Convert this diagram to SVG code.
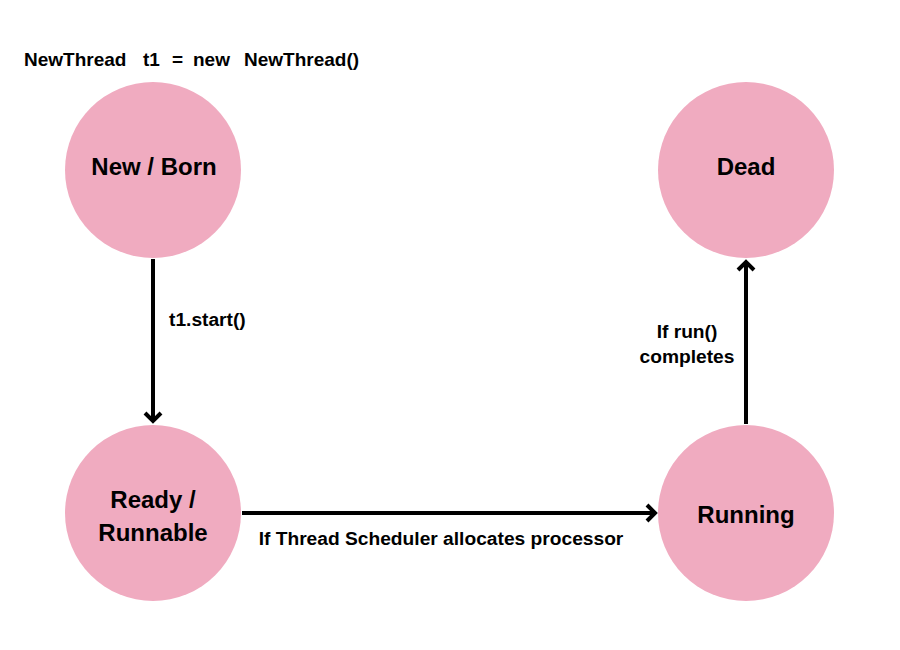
<svg xmlns="http://www.w3.org/2000/svg" width="900" height="650" viewBox="0 0 900 650">
<style>
.node{fill:#F0ABC0;}
.nl{font-family:"Liberation Sans",Arial,sans-serif;font-weight:bold;font-size:24px;fill:#000;text-anchor:middle;}
.el{font-family:"Liberation Sans",Arial,sans-serif;font-weight:bold;font-size:19.2px;fill:#000;}
.top{font-family:"Liberation Sans",Arial,sans-serif;font-weight:bold;font-size:19px;fill:#000;}
.edge{stroke:#000;stroke-width:4;fill:none;}
.head{stroke:#000;stroke-width:4;fill:none;stroke-linejoin:miter;stroke-linecap:butt;}
</style>
<rect width="900" height="650" fill="#fff"/>
<text class="top" y="66"><tspan x="24">NewThread</tspan><tspan x="143">t1</tspan><tspan x="172">=</tspan><tspan x="193">new</tspan><tspan x="244">NewThread()</tspan></text>
<g id="new-born">
<circle class="node" cx="153" cy="170" r="88"/>
<text class="nl" x="154" y="175">New / Born</text>
</g>
<g id="dead">
<circle class="node" cx="746" cy="170" r="88"/>
<text class="nl" x="746" y="175">Dead</text>
</g>
<g id="ready">
<circle class="node" cx="153" cy="513" r="88"/>
<text class="nl" x="153" y="508">Ready /</text>
<text class="nl" x="153" y="541">Runnable</text>
</g>
<g id="running">
<circle class="node" cx="746" cy="513" r="88"/>
<text class="nl" x="746" y="523">Running</text>
</g>
<g id="connectors">
<line class="edge" x1="153" y1="259" x2="153" y2="421"/>
<polyline class="head" points="145,413 153,421 161,413"/>
<line class="edge" x1="242" y1="513" x2="655" y2="513"/>
<polyline class="head" points="647,505 655,513 647,521"/>
<line class="edge" x1="746" y1="424" x2="746" y2="262"/>
<polyline class="head" points="738,270 746,262 754,270"/>
<text class="el" x="169" y="326">t1.start()</text>
<text class="el" x="441" y="545" text-anchor="middle">If Thread Scheduler allocates processor</text>
<text class="el" x="687" y="338" text-anchor="middle">If run()</text>
<text class="el" x="687" y="363" text-anchor="middle">completes</text>
</g>
</svg>
